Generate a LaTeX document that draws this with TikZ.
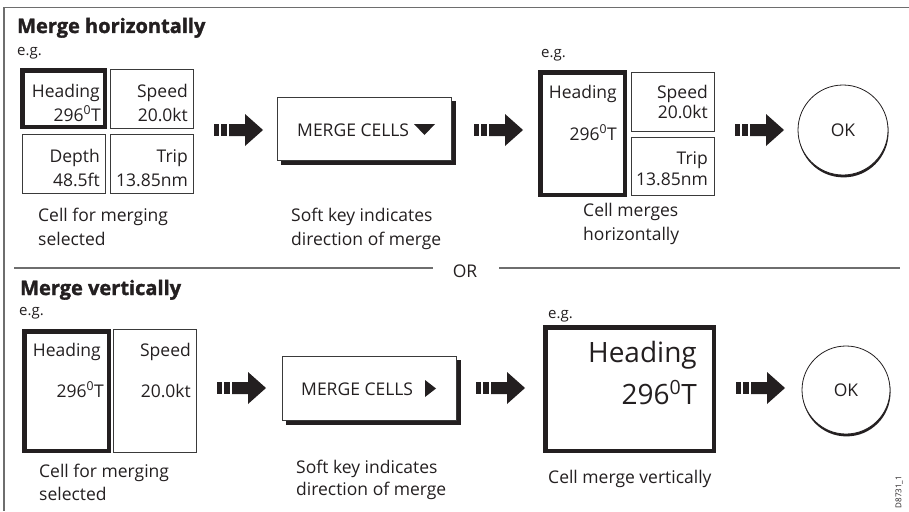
\documentclass[tikz,border=0pt]{standalone}
\usepackage{fontspec}
\setmainfont{Open Sans}
\newfontfamily\heavyfont[BoldFeatures={FakeBold=1.6}]{Open Sans}
\definecolor{ink}{HTML}{231F20}
\definecolor{framegray}{HTML}{6E6E6E}
\definecolor{cellline}{HTML}{3A3A3A}
\tikzset{
  txt/.style={inner sep=0pt, text=ink, font=\fontsize{17.5}{20}\selectfont},
  bigtxt/.style={inner sep=0pt, text=ink, font=\fontsize{28}{32}\selectfont},
  ttl/.style={inner sep=0pt, text=ink, font=\fontsize{20}{24}\selectfont\heavyfont\bfseries},
  egtxt/.style={inner sep=0pt, text=ink, font=\fontsize{15}{18}\selectfont},
  tinytxt/.style={inner sep=0pt, text=ink, font=\fontsize{8}{9}\selectfont},
  thincell/.style={draw=cellline, line width=0.9pt},
  thickcell/.style={draw=ink, line width=4.5pt},
  framelin/.style={draw=framegray, line width=1.6pt},
  orline/.style={draw=framegray, line width=1.3pt},
  softkey/.style={fill=white, draw=cellline, line width=0.9pt},
  keyshadow/.style={fill=ink},
  fatarrow/.pic={
    \fill[ink] (0,-6) rectangle (5,6);
    \fill[ink] (7,-6) rectangle (13,6);
    \fill[ink] (15,-6) -- (31,-6) -- (31,-16) -- (49,0) -- (31,16) -- (31,6) -- (15,6) -- cycle;
  }
}
\newcommand{\okbutton}[3]{%
  \fill[ink] ($(#1)+(0.5,2.4)$) circle (#2);
  \filldraw[fill=white, draw=ink, line width=0.8pt] (#1) circle (#2);
  \node[txt] (#3) at (#1) {OK};
}
\usetikzlibrary{calc}
\begin{document}
\begin{tikzpicture}[x=1pt,y=-1pt]
\useasboundingbox (0,0) rectangle (909,511);
% frame
\draw[framelin] (909,7.5) -- (4,7.5) -- (4,511);
% ---------------- top section ----------------
\node[ttl, anchor=base west] (t1) at (17,33) {Merge horizontally};
\node[egtxt, anchor=base west] (eg1) at (17,56) {e.g.};
% grid of four cells
\draw[thickcell] (22.25,70.25) rectangle (104.75,126.75);
\draw[thincell] (110.5,69.5) rectangle (193.5,128.5);
\draw[thincell] (22,134.5) rectangle (105,193);
\draw[thincell] (110.5,134.5) rectangle (193.5,193);
\node[txt, anchor=base east] (h1) at (100,97) {Heading};
\node[txt, anchor=base east] (h1v) at (101,121) {296\textsuperscript{0}T};
\node[txt, anchor=base east] (s1) at (188,97) {Speed};
\node[txt, anchor=base east] (s1v) at (188,121) {20.0kt};
\node[txt, anchor=base east] (d1) at (100,162) {Depth};
\node[txt, anchor=base east] (d1v) at (100,186) {48.5ft};
\node[txt, anchor=base east] (tr1) at (188,162) {Trip};
\node[txt, anchor=base east] (tr1v) at (188,186) {13.85nm};
\node[txt, anchor=base west] (c1a) at (38,221) {Cell for merging};
\node[txt, anchor=base west] (c1b) at (38,245) {selected};
% arrow 1
\pic at (214,130) {fatarrow};
% soft key
\fill[keyshadow] (280.5,100.5) rectangle (455.5,164.5);
\draw[softkey] (277,97) rectangle (451,160);
\node[txt, anchor=base west] (mk1) at (297,136) {MERGE CELLS};
\fill[ink] (414,124) -- (435,124) -- (424.5,135) -- cycle;
\node[txt, anchor=base west] (c2a) at (291,221) {Soft key indicates};
\node[txt, anchor=base west] (c2b) at (291,245) {direction of merge};
% arrow 2
\pic at (474,130) {fatarrow};
% merged result
\node[egtxt, anchor=base west] (eg2) at (541,58) {e.g.};
\draw[thickcell] (540.25,72.25) rectangle (624.75,194.75);
\draw[thincell] (631.5,72.5) rectangle (714.5,131);
\draw[thincell] (631.5,137) rectangle (714.5,195);
\node[txt, anchor=base east] (h2) at (617,98) {Heading};
\node[txt, anchor=base east] (h2v) at (617,140) {296\textsuperscript{0}T};
\node[txt, anchor=base east] (s2) at (708,98) {Speed};
\node[txt, anchor=base east] (s2v) at (708,118) {20.0kt};
\node[txt, anchor=base east] (tr2) at (708,164) {Trip};
\node[txt, anchor=base east] (tr2v) at (708,185) {13.85nm};
\node[txt, anchor=base west] (c3a) at (583,216) {Cell merges};
\node[txt, anchor=base west] (c3b) at (583,240) {horizontally};
% arrow 3
\pic at (735,130) {fatarrow};
\coordinate (ok1c) at (843,130);
\okbutton{ok1c}{45}{ok1}
% ---------------- OR divider ----------------
\draw[orline] (14,268) -- (433,268);
\draw[orline] (499,268) -- (900,268);
\node[txt, anchor=base] (or) at (465,277) {OR};
% ---------------- bottom section ----------------
\node[ttl, anchor=base west] (t2) at (20,295) {Merge vertically};
\node[egtxt, anchor=base west] (eg3) at (19,315) {e.g.};
\draw[thickcell] (24.25,331.25) rectangle (108.75,450.75);
\draw[thincell] (113.5,329.5) rectangle (196.5,452.5);
\node[txt, anchor=base east] (h3) at (101,356) {Heading};
\node[txt, anchor=base east] (h3v) at (104,397) {296\textsuperscript{0}T};
\node[txt, anchor=base east] (s3) at (191,356) {Speed};
\node[txt, anchor=base east] (s3v) at (191,397) {20.0kt};
\node[txt, anchor=base west] (c4a) at (39,477) {Cell for merging};
\node[txt, anchor=base west] (c4b) at (39,500) {selected};
\pic at (217,388) {fatarrow};
\fill[keyshadow] (285.5,359.5) rectangle (460.5,424.5);
\draw[softkey] (282,356) rectangle (456,420);
\node[txt, anchor=base west] (mk2) at (301,395) {MERGE CELLS};
\fill[ink] (425,380) -- (436,388.5) -- (425,397) -- cycle;
\node[txt, anchor=base west] (c5a) at (296,473) {Soft key indicates};
\node[txt, anchor=base west] (c5b) at (296,495) {direction of merge};
\pic at (476,388) {fatarrow};
\node[egtxt, anchor=base west] (eg4) at (548,318) {e.g.};
\draw[thickcell] (545.25,327.25) rectangle (713.75,450.75);
\node[bigtxt, anchor=base east] (h4) at (697,362) {Heading};
\node[bigtxt, anchor=base east] (h4v) at (697,404) {296\textsuperscript{0}T};
\node[txt, anchor=base west] (c6) at (548,483) {Cell merge vertically};
\pic at (736,388) {fatarrow};
\coordinate (ok2c) at (846,390);
\okbutton{ok2c}{44}{ok2}
\node[tinytxt, rotate=90] (code) at (899,492) {D8731\_1};
\end{tikzpicture}
\end{document}
